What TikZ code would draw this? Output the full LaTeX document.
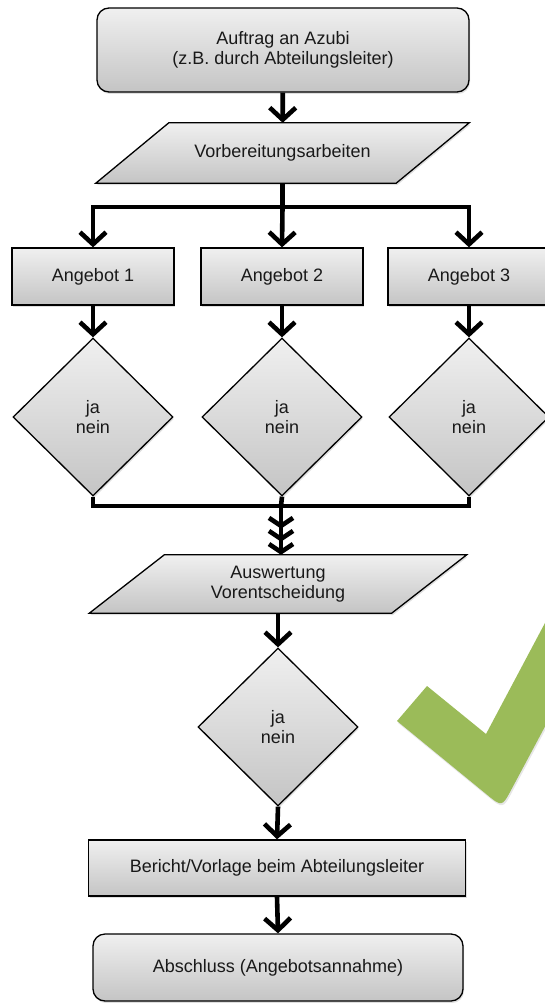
\documentclass[tikz,border=0pt]{standalone}
\usepackage{fontspec}
\setmainfont{Liberation Sans}
\usetikzlibrary{arrows.meta,shapes.geometric,shadows,backgrounds,calc}
\definecolor{checkgreen}{HTML}{9BBB59}
\begin{document}
\begin{tikzpicture}[x=1pt,y=-1pt,
  every node/.style={font=\fontsize{18}{20.5}\selectfont, text=black!90, align=center},
  shapebox/.style={draw=black, line width=1.3pt, top color=gray!12, bottom color=gray!46,
    drop shadow={opacity=0.25, shadow xshift=1pt, shadow yshift=-2pt}},
  flowline/.style={line width=4.6pt, draw=black},
  arr/.style={flowline, -{Straight Barb[length=12pt,width=26pt]}},
  arrthree/.style={flowline, -{Straight Barb[length=8pt,width=24pt] Straight Barb[length=8pt,width=24pt] Straight Barb[length=8pt,width=24pt]}},
  ]
\useasboundingbox (0,0) rectangle (545,1003);
\clip (0,0) rectangle (545,1003);

% check mark
\fill[checkgreen, drop shadow={opacity=0.2, shadow xshift=1pt, shadow yshift=-2pt}]
  (427,686) -- (486,734) -- (580,557) -- (580,661) -- (511.4,789.4)
  .. controls (502,807) .. (486.5,794.3) -- (397,721) -- cycle;

% nodes
\node[shapebox, rounded corners=12pt, minimum width=372pt, minimum height=84pt] (start) at (283,50)
  {Auftrag an Azubi\\(z.B. durch Abteilungsleiter)};

\node[minimum width=300pt, minimum height=60pt, inner sep=0pt] (prep) at (282.5,153) {Vorbereitungsarbeiten};

\node[shapebox, minimum width=162pt, minimum height=57pt] (a1) at (93,276.5) {Angebot 1};
\node[shapebox, minimum width=162pt, minimum height=57pt] (a2) at (282,276.5) {Angebot 2};
\node[shapebox, minimum width=162pt, minimum height=57pt] (a3) at (469,276.5) {Angebot 3};

\node[shapebox, diamond, minimum width=160pt, minimum height=158pt, inner sep=0pt] (d1) at (93,417) {ja\\nein};
\node[shapebox, diamond, minimum width=160pt, minimum height=158pt, inner sep=0pt] (d2) at (282,417) {ja\\nein};
\node[shapebox, diamond, minimum width=160pt, minimum height=158pt, inner sep=0pt] (d3) at (469,417) {ja\\nein};

\node[minimum width=302pt, minimum height=58pt, inner sep=0pt] (eval) at (278,584) {Auswertung\\Vorentscheidung};

\node[shapebox, diamond, minimum width=160pt, minimum height=158pt, inner sep=0pt] (d4) at (278,727) {ja\\nein};

\node[shapebox, minimum width=377pt, minimum height=56pt] (report) at (277,868) {Bericht/Vorlage beim Abteilungsleiter};
\node[shapebox, rounded corners=12pt, minimum width=370pt, minimum height=67pt] (finish) at (278,967.5) {Abschluss (Angebotsannahme)};

% parallelogram bodies
\begin{scope}[on background layer]
\draw[shapebox] ([xshift=-36.5pt]prep.south west) -- ([xshift=-36.5pt]prep.south east)
  -- ([xshift=36.5pt]prep.north east) -- ([xshift=36.5pt]prep.north west) -- cycle;
\draw[shapebox] ([xshift=-37.5pt]eval.south west) -- ([xshift=-37.5pt]eval.south east)
  -- ([xshift=37.5pt]eval.north east) -- ([xshift=37.5pt]eval.north west) -- cycle;
\end{scope}

% connectors
\coordinate (split) at (282.5,207);
\coordinate (merge) at (281,506);
\draw[arr] (start) -- (prep);
\draw[flowline] (prep.south) -- (split);
\draw[arr] (split) -| (a1.north);
\draw[arr] (split) -| (a3.north);
\draw[arr] (split) -- (a2.north);
\draw[arr] (a1) -- (d1);
\draw[arr] (a2) -- (d2);
\draw[arr] (a3) -- (d3);
\draw[flowline] (d1.south) |- (merge);
\draw[flowline] (d3.south) |- (merge);
\draw[flowline] (d2.south) -- (merge);
\draw[arrthree] (merge) -- (merge |- eval.north);
\draw[arr] (eval.south) -- (d4.north);
\draw[arr] (d4.south) -- (report.north);
\draw[arr] (report.south) -- (finish.north);
\end{tikzpicture}
\end{document}
